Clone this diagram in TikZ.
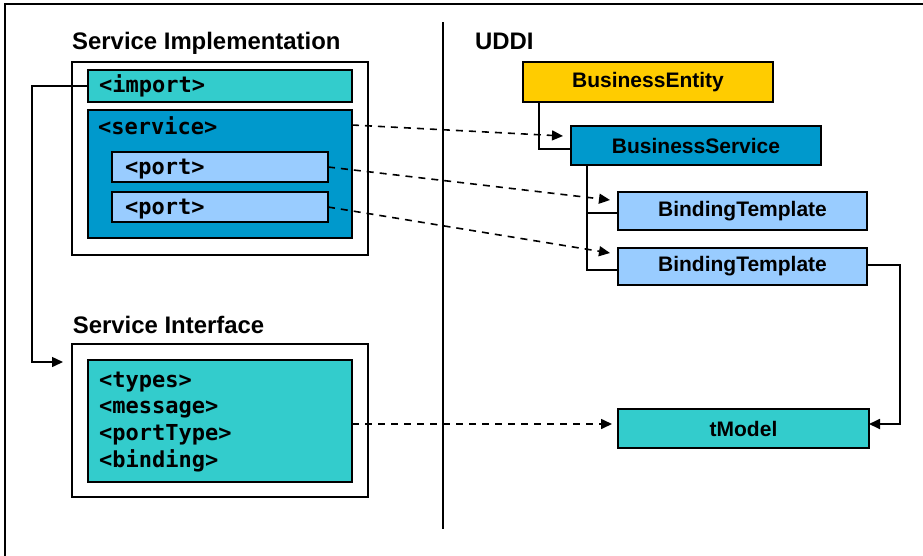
\documentclass[tikz,border=0pt]{standalone}
\usepackage{fontspec}
\setmainfont{Liberation Sans}
\newfontfamily\monofont{DejaVu Sans Mono}
\usetikzlibrary{arrows.meta}
\definecolor{tealc}{HTML}{33CCCC}
\definecolor{svcblue}{HTML}{0099CC}
\definecolor{portblue}{HTML}{99CCFF}
\definecolor{beyellow}{HTML}{FFCC00}
\tikzset{
  box/.style={draw, rectangle, inner sep=0pt, outer sep=0pt, anchor=north west, line width=1.5pt},
  ubox/.style={box, line width=2.8pt},
  ulabel/.style={font=\bfseries\fontsize{21}{25}\selectfont},
  titletext/.style={anchor=base west, inner sep=0pt, font=\bfseries\fontsize{23.9}{28}\selectfont},
  mono/.style={anchor=base west, inner sep=0pt, font=\monofont\bfseries\fontsize{22}{26}\selectfont},
  thinline/.style={line width=1.5pt},
  uline/.style={line width=2.6pt},
  dashline/.style={line width=1.6pt, dash pattern=on 7pt off 6pt},
  arrowtip/.style={-{Triangle[length=11pt,width=10pt]}}
}
\begin{document}
\begin{tikzpicture}[x=1pt,y=-1pt]
\useasboundingbox (0,0) rectangle (923,555);
% frame
\draw[line width=2.2pt] (5,556) -- (5,4) -- (924,4);
% separator
\draw[thinline] (443,22) -- (443,529);
% titles
\node[titletext] (t1) at (72,49.3) {Service Implementation};
\node[titletext] (t2) at (72.7,333) {Service Interface};
\node[titletext] (t3) at (475,49) {UDDI};
% service implementation
\node[box, minimum width=296pt, minimum height=193pt] (implOuter) at (72,62) {};
\node[box, fill=tealc, minimum width=264pt, minimum height=32pt] (import) at (88,70) {};
\node[box, fill=svcblue, minimum width=264pt, minimum height=128pt] (service) at (88,110) {};
\node[box, fill=portblue, minimum width=216pt, minimum height=30pt] (port1) at (112,152) {};
\node[box, fill=portblue, minimum width=216pt, minimum height=30pt] (port2) at (112,192) {};
\node[mono] (importT) at (99,92.7) {<import>};
\node[mono] (serviceT) at (98,134) {<service>};
\node[mono] (port1T) at (125,174) {<port>};
\node[mono] (port2T) at (125,214) {<port>};
% service interface
\node[box, minimum width=296pt, minimum height=153pt] (ifOuter) at (72,344) {};
\node[box, fill=tealc, minimum width=264pt, minimum height=122pt] (ifInner) at (88,360) {};
\node[mono] (l1) at (99,387) {<types>};
\node[mono] (l2) at (99,413.7) {<message>};
\node[mono] (l3) at (99,440.4) {<portType>};
\node[mono] (l4) at (99,467) {<binding>};
% UDDI
\node[ubox, fill=beyellow, minimum width=250pt, minimum height=40pt] (be) at (523,62) {};
\node[ubox, fill=svcblue, minimum width=250pt, minimum height=39pt] (bs) at (571,126) {};
\node[ubox, fill=portblue, minimum width=249pt, minimum height=38pt] (bt1) at (618,192) {};
\node[ubox, fill=portblue, minimum width=249pt, minimum height=37pt] (bt2) at (618,248) {};
\node[ubox, fill=tealc, minimum width=251pt, minimum height=39pt] (tm) at (618,409) {};
\node[ulabel] (beT) at (be.center) {BusinessEntity};
\node[ulabel] (bsT) at (bs.center) {BusinessService};
\node[ulabel] (bt1T) at (bt1.center) {BindingTemplate};
\node[ulabel] (bt2T) at (bt2.center) {BindingTemplate};
\node[ulabel] (tmT) at (tm.center) {tModel};
% UDDI tree connectors
\draw[uline] ([xshift=16pt]be.south west) |- ([yshift=-3.5pt]bs.west);
\draw[uline] ([xshift=16pt]bs.south west) |- ([yshift=-3.5pt]bt2.west);
\draw[uline] ([xshift=16pt]bs.south west) |- ([yshift=-2pt]bt1.west);
\draw[line width=1.8pt, arrowtip] ([yshift=1.5pt]bt2.east) -- ++(33,0) |- ([yshift=4.5pt]tm.east);
% import link
\coordinate (ifIn) at ([xshift=-9pt,yshift=-18pt]ifOuter.north west);
\draw[thinline, arrowtip] (import.west) -- ++(-56,0) |- (ifIn);
% dashed links
\draw[dashline, arrowtip] ([yshift=-15pt]service.north east) -- ([xshift=-8pt,yshift=9.5pt]bs.west);
\draw[dashline, arrowtip] (port1.east) -- ([xshift=-8pt,yshift=11pt]bt1.west);
\draw[dashline, arrowtip] (port2.east) -- ([xshift=-8pt,yshift=13.5pt]bt2.west);
\draw[dashline, arrowtip] ([yshift=-3pt]ifInner.east) -- ([xshift=-6pt,yshift=4.5pt]tm.west);
\end{tikzpicture}
\end{document}
